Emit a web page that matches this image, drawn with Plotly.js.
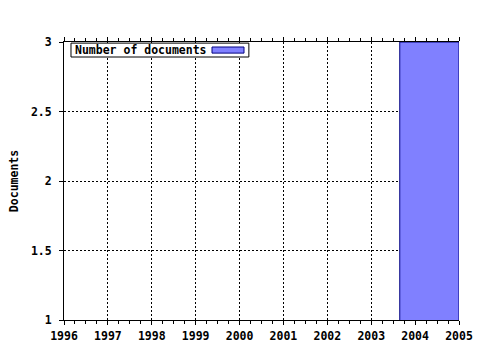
<!DOCTYPE html>
<html>
<head>
<meta charset="utf-8">
<script src="https://cdn.plot.ly/plotly-3.0.1.min.js"></script>
<style>html,body{margin:0;padding:0;background:#fff;}#chart{width:480px;height:350px;}</style>
</head>
<body>
<div id="chart"></div>
<script>
// Data
const years = [2004];
const documents = [3];
const seriesName = 'Number of documents';
const yTickVals = [1, 1.5, 2, 2.5, 3];
const yTickText = ['1', '1.5', '2', '2.5', '3'];
const xTickVals = [1996, 1997, 1998, 1999, 2000, 2001, 2002, 2003, 2004, 2005];

const FONT = {family: 'DejaVu Sans Mono, monospace', size: 11.5, color: '#000', weight: 'bold'};
const fill = '#8080ff';
const edge = '#000080';

const trace = {
  type: 'bar',
  x: years,
  y: documents,
  base: 0,
  offset: -0.35,
  width: 1.35,
  name: seriesName,
  marker: {color: fill, line: {color: edge, width: 1}},
  showlegend: false,
  hoverinfo: 'skip'
};

const layout = {
  width: 480, height: 350,
  margin: {l: 64, r: 21, t: 42, b: 30, pad: 0},
  paper_bgcolor: '#fff', plot_bgcolor: '#fff',
  font: FONT,
  showlegend: false,
  xaxis: {
    range: [1996, 2005],
    tickvals: xTickVals,
    ticktext: xTickVals.map(String),
    ticks: 'outside', ticklen: 4, tickcolor: '#000', tickwidth: 1,
    minor: {dtick: 0.25, tick0: 1996, ticks: 'outside', ticklen: 3, tickcolor: '#000', showgrid: false},
    showline: true, linecolor: '#000', linewidth: 1, mirror: 'allticks',
    showgrid: true, gridcolor: '#000', gridwidth: 1, griddash: '2px,2px',
    zeroline: false, tickfont: FONT, fixedrange: true, ticklabelstandoff: 1
  },
  yaxis: {
    range: [1, 3],
    tickvals: yTickVals,
    ticktext: yTickText,
    ticks: 'outside', ticklen: 4, tickcolor: '#000',
    showline: true, linecolor: '#000', linewidth: 1,
    showgrid: true, gridcolor: '#000', gridwidth: 1, griddash: '2px,2px',
    zeroline: false, tickfont: FONT, ticklabelstandoff: 5,
    title: {text: 'Documents', font: FONT, standoff: 9},
    fixedrange: true
  },
  shapes: [
    {type: 'rect', xref: 'paper', yref: 'paper', x0: 0.0177, x1: 0.468, y0: 0.946, y1: 0.996,
     fillcolor: '#fff', line: {color: '#000', width: 1}, layer: 'above'},
    {type: 'rect', xref: 'paper', yref: 'paper', x0: 0.3747, x1: 0.4557, y0: 0.960, y1: 0.982,
     fillcolor: fill, line: {color: edge, width: 1}, layer: 'above'}
  ],
  annotations: [
    {xref: 'paper', yref: 'paper', x: 0.0228, y: 0.971, xanchor: 'left', yanchor: 'middle',
     text: seriesName, showarrow: false, font: FONT}
  ]
};

Plotly.newPlot('chart', [trace], layout, {staticPlot: true, displayModeBar: false});
</script>
</body>
</html>
